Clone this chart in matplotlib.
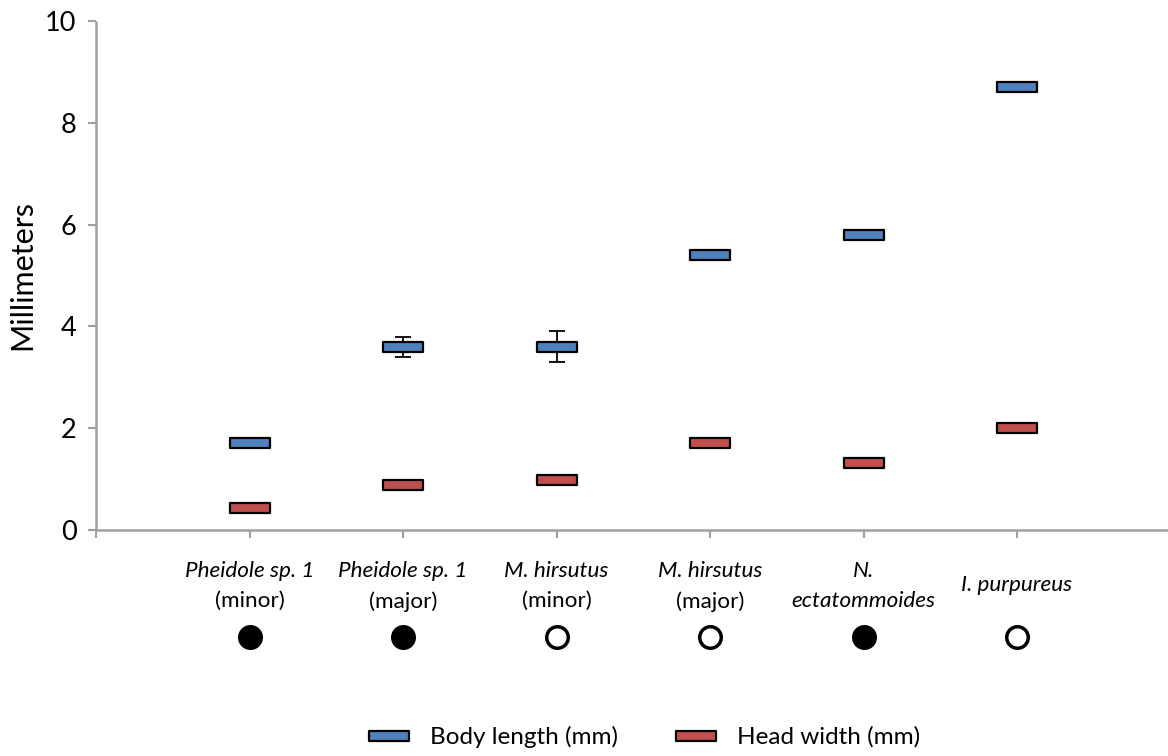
import matplotlib
matplotlib.use("Agg")
import matplotlib.pyplot as plt
from matplotlib.path import Path
from matplotlib.lines import Line2D
import numpy as np

plt.rcParams['font.family'] = ['Lato', 'DejaVu Sans']

# ---- data ----
species_line1 = ["Pheidole sp. 1", "Pheidole sp. 1", "M. hirsutus", "M. hirsutus", "N.", "I. purpureus"]
species_line2 = ["(minor)", "(major)", "(minor)", "(major)", "ectatommoides", ""]
line2_italic = [False, False, False, False, True, False]
body_length = [1.70, 3.60, 3.60, 5.40, 5.80, 8.70]
body_err_low = [0.07, 0.20, 0.30, 0.05, 0.10, 0.08]
body_err_high = [0.07, 0.20, 0.30, 0.05, 0.10, 0.08]
head_width = [0.43, 0.88, 0.98, 1.70, 1.32, 2.00]
filled_marker = [True, True, False, False, True, False]
series_names = ["Body length (mm)", "Head width (mm)"]
yticks = [0, 2, 4, 6, 8, 10]

blue = "#4F81BD"
red = "#C0504D"
axis_gray = "#A0A0A0"

fig = plt.figure(figsize=(11.68, 7.56), dpi=100)
ax = fig.add_axes([96/1168, 1-530/756, (1170.5-96)/1168, (530-21)/756])

x = np.arange(1, len(body_length) + 1)

# horizontal rectangle marker
rect = Path([(-0.5, -0.11), (0.5, -0.11), (0.5, 0.11), (-0.5, 0.11), (-0.5, -0.11)],
            [Path.MOVETO, Path.LINETO, Path.LINETO, Path.LINETO, Path.CLOSEPOLY])
msize = 29.5

ax.errorbar(x, body_length, yerr=[body_err_low, body_err_high], fmt='none',
            ecolor='black', elinewidth=1.3, capsize=6, capthick=1.3, zorder=2)
ax.plot(x, body_length, linestyle='none', marker=rect, markersize=msize,
        markerfacecolor=blue, markeredgecolor='black', markeredgewidth=1.6, zorder=3)
ax.plot(x, head_width, linestyle='none', marker=rect, markersize=msize,
        markerfacecolor=red, markeredgecolor='black', markeredgewidth=1.6, zorder=3)

ax.set_xlim(0, 7)
ax.set_ylim(0, 10)
ax.set_yticks(yticks)
ax.set_yticklabels([str(t) for t in yticks], fontsize=19.5)
ax.set_xticks(range(0, 7))
ax.set_xticklabels([])
ax.tick_params(axis='both', direction='out', length=6, width=1.5, color=axis_gray)
ax.tick_params(axis='y', pad=8)
for s in ['top', 'right']:
    ax.spines[s].set_visible(False)
for s in ['left', 'bottom']:
    ax.spines[s].set_color(axis_gray)
    ax.spines[s].set_linewidth(1.8)
ax.spines['left'].set_capstyle('butt')

ax.set_ylabel("Millimeters", fontsize=22)
ax.yaxis.set_label_coords(-0.056, 0.5)

# category labels
fs = 16.2
for xi, l1, l2, it2 in zip(x, species_line1, species_line2, line2_italic):
    if l2:
        ax.text(xi, -0.80, l1, ha='center', va='center', fontsize=fs, style='italic', clip_on=False)
        ax.text(xi, -1.40, l2, ha='center', va='center', fontsize=fs,
                style='italic' if it2 else 'normal', clip_on=False)
    else:
        ax.text(xi, -1.08, l1, ha='center', va='center', fontsize=fs, style='italic', clip_on=False)

# filled/open circles
for xi, f in zip(x, filled_marker):
    ax.plot([xi], [-2.10], marker='o', markersize=15.5, markerfacecolor='black' if f else 'white',
            markeredgecolor='black', markeredgewidth=2.5, clip_on=False, linestyle='none')

handles = [Line2D([], [], linestyle='none', marker=rect, markersize=msize,
                  markerfacecolor=c, markeredgecolor='black', markeredgewidth=1.6)
           for c in (blue, red)]
fig.legend(handles, series_names, loc='center', bbox_to_anchor=(645/1168, 1-737/756),
           ncol=2, frameon=False, fontsize=17.5, handlelength=1.6, columnspacing=2.4,
           handletextpad=0.9)

fig.savefig("out.png", dpi=100)
